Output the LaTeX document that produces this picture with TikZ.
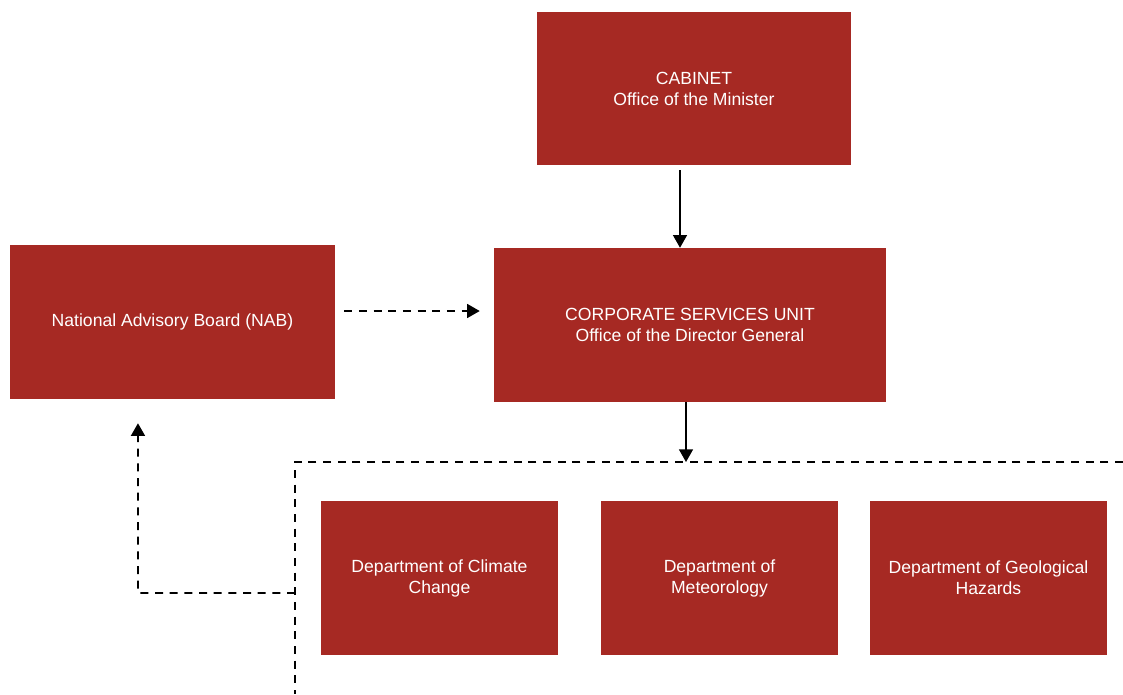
\documentclass[tikz,border=0pt]{standalone}
\usepackage{fontspec}
\setmainfont{Liberation Sans}
\usetikzlibrary{arrows.meta}

\definecolor{unitred}{RGB}{166,41,35}

\tikzset{
  unit/.style={fill=unitred, text=white, align=center, inner sep=0pt,
    minimum height=115.5pt},
  solidline/.style={line width=1pt},
  dashline/.style={line width=1.3pt, dash pattern=on 6pt off 5pt}
}

\begin{document}
\begin{tikzpicture}[x=0.75pt, y=-0.75pt, font=\fontsize{13.2}{15.75}\selectfont,
  >={Triangle[width=10.5pt,length=9.5pt]}]
\useasboundingbox (0,0) rectangle (1123,694);

\node[unit, minimum width=235.5pt, minimum height=114.75pt] (cabinet) at (694,88.5) {CABINET\\Office of the Minister};
\node[unit, minimum width=294pt] (csu) at (690,325) {CORPORATE SERVICES UNIT\\Office of the Director General};
\node[unit, minimum width=243.75pt] (nab) at (172.5,322) {National Advisory Board (NAB)};

\node[unit, minimum width=177.75pt] (climate) at (439.5,578) {Department of Climate\\Change};
\node[unit, minimum width=177.75pt] (meteo) at (719.5,578) {Department of\\Meteorology};
\node[unit, minimum width=177.75pt] (geo) at (988.5,578) {Department of Geological\\Hazards};

% dashed bus to the departments
\coordinate (busL) at (295,462);
\coordinate (busR) at (1123,462);
\coordinate (busB) at (295,694);
\coordinate (nabturn) at (295,593);
\coordinate (nabbend) at (138,593);
\coordinate (csufoot) at ([xshift=-3pt]csu.south);

\draw [->, solidline] ([xshift=-10.5pt, yshift=-3.75pt]cabinet.south) -- ([xshift=-7.5pt]csu.north);
\draw [->, solidline] (csufoot) -- (csufoot |- busL);

\draw [->, dashline] ([xshift=6.75pt, yshift=8.25pt]nab.east) -- ([xshift=-10.5pt, yshift=10.5pt]csu.west);

\draw [dashline] (busR) -- (busL) -- (busB);
\draw [->, dashline] (nabturn) -- (nabbend) -- ([xshift=-25.9pt, yshift=-18pt]nab.south);
\end{tikzpicture}
\end{document}
